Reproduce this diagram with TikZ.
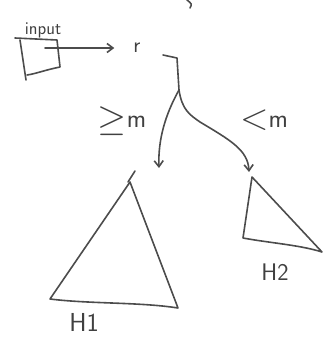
\documentclass[tikz,border=0pt]{standalone}
\usetikzlibrary{arrows.meta}
\begin{document}
\begin{tikzpicture}[x=1pt,y=-1pt,
  pen/.style={draw=black!70, line width=1.6pt, line cap=round, line join=round},
  arr/.style={pen, -{Straight Barb[length=6pt,width=9pt]}},
  lbl/.style={text=black!75, font=\sffamily, inner sep=1pt}]
\useasboundingbox (0,0) rectangle (325,348);
% input box
\draw[pen] (15,38) -- (57,40) -- (60,67) .. controls (45,70) and (35,74) .. (27,75);
\draw[pen] (20,40) -- (26,80);
\node[lbl, font=\sffamily\fontsize{18}{18}\selectfont] (inlbl) at (43,30) {input};
\coordinate (inbox) at (45,48);
% r
\node[lbl, font=\sffamily\fontsize{22}{22}\selectfont] (r) at (137,48) {r};
\draw[arr, shorten >=18pt] (inbox) -- (r.west);
% stray stroke top right
\draw[pen] (187,0) .. controls (192,4) .. (190,8);
% tree from r
\coordinate (fork) at (179,90);
\draw[pen] (163,55) -- (177,58) -- (fork);
% triangles
\coordinate (h1top) at (130,182);
\coordinate (h1bl) at (50,299);
\coordinate (h1br) at (178,308);
\draw[pen] (h1top) -- (h1bl) .. controls (90,304) and (140,302) .. (h1br) -- cycle;
\draw[pen] (128,182) -- (135,171);
\coordinate (h2top) at (252,177);
\coordinate (h2bl) at (243,238);
\coordinate (h2br) at (322,252);
\draw[pen] (h2top) -- (h2bl) .. controls (270,243) and (300,245) .. (h2br) -- cycle;
% branches
\coordinate (lend) at (159,168);
\coordinate (rend) at (249,172);
\draw[arr] (fork) .. controls (165,115) and (158,140) .. (lend);
\draw[arr] (fork) .. controls (182,110) and (190,115) .. (200,122) .. controls (230,140) and (248,150) .. (rend);
% labels
\node[lbl, font=\sffamily\fontsize{26}{26}\selectfont] (ge) at (122,121) {\raisebox{-3pt}{\scalebox{1.5}{$\geq$}}m};
\node[lbl, font=\sffamily\fontsize{26}{26}\selectfont] (lt) at (264,120) {\raisebox{-2pt}{\scalebox{1.5}{$<$}}m};
\node[lbl, font=\sffamily\fontsize{26}{26}\selectfont] (H1) at (84,322) {H1};
\node[lbl, font=\sffamily\fontsize{24}{24}\selectfont] (H2) at (275,272) {H2};
\end{tikzpicture}
\end{document}
